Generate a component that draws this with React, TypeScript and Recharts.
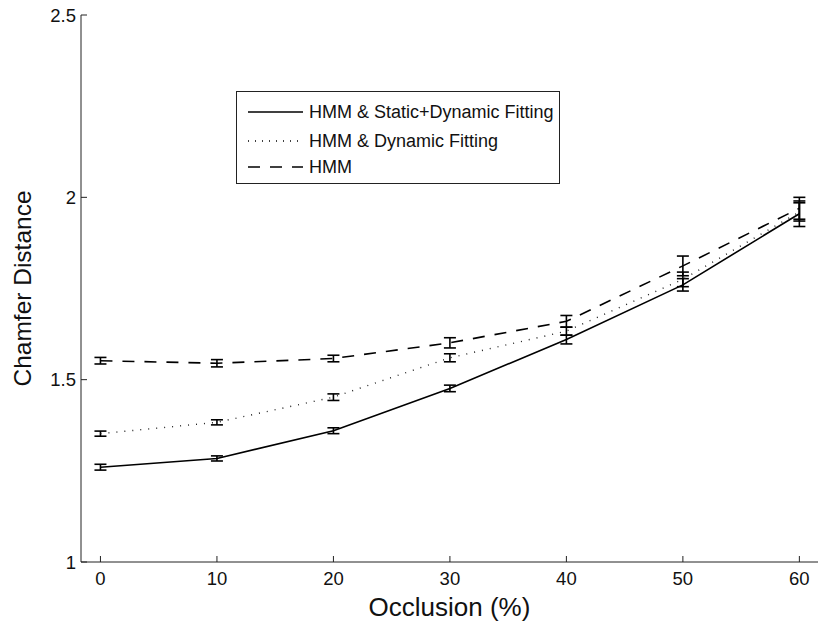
import React from "react";
import { LineChart, Line, XAxis, YAxis, ErrorBar } from "recharts";

const occlusion = [0, 10, 20, 30, 40, 50, 60];
const staticDynamic = [1.26, 1.284, 1.36, 1.476, 1.61, 1.76, 1.955];
const staticDynamicErr = [0.008, 0.007, 0.008, 0.009, 0.012, 0.017, 0.035];
const dynamicOnly = [1.352, 1.383, 1.452, 1.56, 1.633, 1.775, 1.96];
const dynamicOnlyErr = [0.007, 0.007, 0.009, 0.011, 0.011, 0.02, 0.025];
const hmmOnly = [1.552, 1.545, 1.558, 1.601, 1.66, 1.812, 1.97];
const hmmOnlyErr = [0.009, 0.01, 0.009, 0.014, 0.016, 0.027, 0.03];

const xTicks = [0, 10, 20, 30, 40, 50, 60];
const yTicks = [1, 1.5, 2, 2.5];
const seriesNames = [
  "HMM & Static+Dynamic Fitting",
  "HMM & Dynamic Fitting",
  "HMM",
];

const data = occlusion.map((x, i) => ({
  x,
  sd: staticDynamic[i],
  sdErr: staticDynamicErr[i],
  d: dynamicOnly[i],
  dErr: dynamicOnlyErr[i],
  h: hmmOnly[i],
  hErr: hmmOnlyErr[i],
}));

const FONT = "'Liberation Sans', Arial, Helvetica, sans-serif";
const AX = "#222";
const DOTTED = "1 7";
const DASHED = "12 10";

export default function App() {
  const tickStyle = { fontSize: 18.5, fill: "#111", fontFamily: FONT };
  return (
    <div style={{ position: "fixed", left: 0, top: 0, width: 818, height: 622, background: "#fff" }}>
      <LineChart
        width={818}
        height={622}
        data={data}
        margin={{ top: 15, right: 0, bottom: 0, left: 0 }}
      >
        <XAxis
          dataKey="x"
          type="number"
          domain={[-1.67, 61.6]}
          ticks={xTicks}
          allowDataOverflow
          height={60}
          tickSize={-6}
          tickMargin={16}
          stroke={AX}
          tick={tickStyle}
          label={{
            value: "Occlusion (%)",
            position: "insideBottom",
            offset: 6,
            style: { fontSize: 26, fill: "#111", fontFamily: FONT },
          }}
        />
        <XAxis
          xAxisId="top"
          orientation="top"
          dataKey="x"
          type="number"
          domain={[-1.67, 61.6]}
          ticks={xTicks}
          allowDataOverflow
          height={0}
          tickSize={-6}
          tick={false}
          stroke={AX}
        />
        <YAxis
          type="number"
          domain={[1, 2.5]}
          ticks={yTicks}
          width={81}
          tickSize={-6}
          tickMargin={11}
          stroke={AX}
          tick={tickStyle}
          label={{
            value: "Chamfer Distance",
            angle: -90,
            position: "insideLeft",
            offset: 22,
            style: { fontSize: 24.5, fill: "#111", fontFamily: FONT, textAnchor: "middle" },
          }}
        />
        <Line
          dataKey="sd"
          stroke="#000"
          strokeWidth={1.6}
          dot={false}
          isAnimationActive={false}
        >
          <ErrorBar dataKey="sdErr" width={6} stroke="#000" strokeWidth={1.6} strokeDasharray="none" />
        </Line>
        <Line
          dataKey="d"
          stroke="#222"
          strokeWidth={1.4}
          strokeDasharray={DOTTED}
          dot={false}
          isAnimationActive={false}
        >
          <ErrorBar dataKey="dErr" width={6} stroke="#000" strokeWidth={1.6} strokeDasharray="none" />
        </Line>
        <Line
          dataKey="h"
          stroke="#000"
          strokeWidth={1.6}
          strokeDasharray={DASHED}
          dot={false}
          isAnimationActive={false}
        >
          <ErrorBar dataKey="hErr" width={6} stroke="#000" strokeWidth={1.6} strokeDasharray="none" />
        </Line>
      </LineChart>
      <div
        style={{
          position: "absolute",
          left: 236,
          top: 91,
          width: 324,
          height: 93,
          boxSizing: "border-box",
          border: `1px solid ${AX}`,
          background: "#fff",
          fontFamily: FONT,
          fontSize: 18,
          color: "#111",
        }}
      >
        {seriesNames.map((name, i) => (
          <div
            key={name}
            style={{
              position: "absolute",
              left: 10,
              top: [8, 37, 63][i],
              height: 24,
              display: "flex",
              alignItems: "center",
              whiteSpace: "nowrap",
            }}
          >
            <svg width={62} height={24} style={{ display: "block" }}>
              <line
                x1={1}
                x2={56}
                y1={12}
                y2={12}
                stroke="#000"
                strokeWidth={1.6}
                strokeDasharray={i === 0 ? undefined : i === 1 ? "1 6" : "12 10"}
              />
            </svg>
            <span>{name}</span>
          </div>
        ))}
      </div>
    </div>
  );
}
